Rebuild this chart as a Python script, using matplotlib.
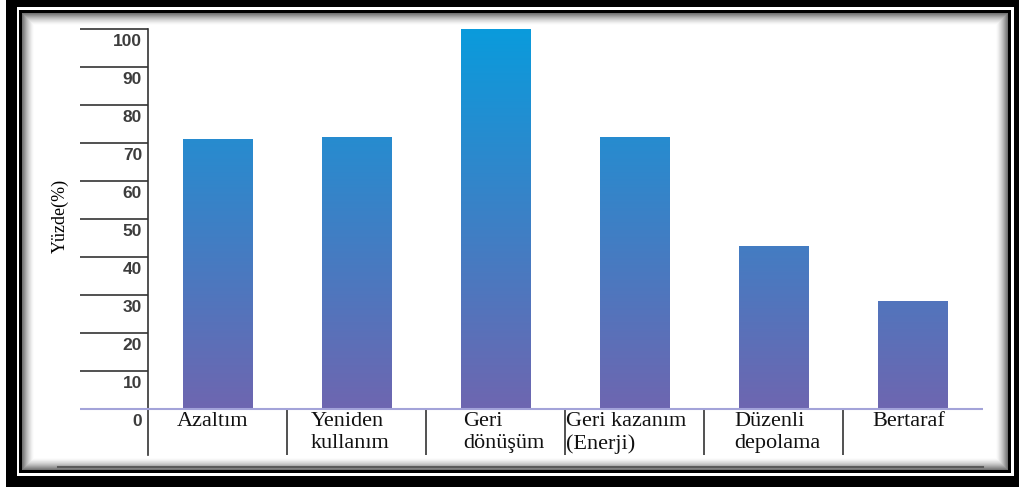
import matplotlib as mpl
mpl.use('agg')
import numpy as np
from matplotlib import pyplot as plt
from matplotlib.colors import LinearSegmentedColormap
from matplotlib.transforms import ScaledTranslation

categories = ['Azaltım', 'Yeniden\nkullanım', 'Geri\ndönüşüm', 'Geri kazanım\n(Enerji)', 'Düzenli\ndepolama', 'Bertaraf']
values = [71, 71.5, 100, 71.5, 43, 28.5]
ticks = list(range(0, 101, 10))
# left edge of each category label, relative to the category centre
label_shift = [-0.29, -0.33, -0.23, -0.49, -0.28, -0.29]

W, H = 1019, 491
fig = plt.figure(figsize=(W / 100, H / 100), dpi=100)

# double black frame with a soft inner shadow
bg = np.ones((H, W))
bg[0:487, 6:W] = 0
bg[7:476, 17:1014] = 1
bg[10:473, 19:1011] = 0
rows = np.arange(13, 470)[:, None]
cols = np.arange(22, 1008)[None, :]
d = np.minimum(np.minimum(rows - 13, 469 - rows), np.minimum(cols - 22, 1007 - cols))
bg[13:470, 22:1008] = 1 - 0.55 * np.clip(1 - d / 12, 0, 1) ** 1.5
bax = fig.add_axes([0, 0, 1, 1])
bax.imshow(bg, cmap='gray', vmin=0, vmax=1, interpolation='bilinear', aspect='auto')
bax.plot([58, 983], [466, 466], color='#5a5a5a', lw=1.5)
bax.set_xlim(-0.5, W - 0.5)
bax.set_ylim(H - 0.5, -0.5)
bax.axis('off')

ax = fig.add_axes([148 / W, (H - 409) / H, (982 - 148) / W, 380 / H])
ax.patch.set_alpha(0)
for s in ax.spines.values():
    s.set_visible(False)

x = np.arange(len(values))
bars = ax.bar(x, values, width=0.5, color='none', edgecolor='none')

# vertical gradient fixed to the value scale
cmap = LinearSegmentedColormap.from_list('bars', ['#6E66B0', '#0A9BDC'])
grad = np.linspace(0, 1, 256)[:, None]
for bar in bars:
    x0, w = bar.get_x(), bar.get_width()
    im = ax.imshow(grad, extent=[x0, x0 + w, 0, 100], origin='lower', aspect='auto',
                   cmap=cmap, vmin=0, vmax=1, interpolation='bilinear')
    im.set_clip_path(bar)

ax.set_xlim(-0.5, len(values) - 0.5)
ax.set_ylim(0, 100)

xtr = ax.get_xaxis_transform()
ytr = ax.get_yaxis_transform()
tick_len = 68 / 834
below = 46 / 380

ax.plot([0, 0], [1, -below], transform=ax.transAxes, color='#333333', lw=1.2, clip_on=False)
ax.vlines(x[:-1] + 0.5, -below, 0, transform=xtr, colors='#333333', lw=1.2, clip_on=False)
ax.hlines(ticks[1:], -tick_len, 0, transform=ytr, colors='#333333', lw=1.2, clip_on=False)
ax.hlines(0, -tick_len, 1.0012, transform=ytr, colors='#a3a3d9', lw=1.5, clip_on=False, zorder=3)

ax.set_xticks([])
ax.set_yticks(ticks)
ax.set_yticklabels([str(t) for t in ticks], fontfamily='Liberation Sans', fontweight='bold',
                   fontsize=12.5, color='#3d3d3d')
ax.tick_params(axis='y', length=0, pad=4.3)
offset = ScaledTranslation(0, -10.5 / 100, fig.dpi_scale_trans)
for lab in ax.get_yticklabels():
    lab.set_transform(lab.get_transform() + offset)

for xi, name, sh in zip(x, categories, label_shift):
    ax.text(xi + sh, -0.008, name, transform=xtr, ha='left', va='top',
            fontfamily='Liberation Serif', fontsize=16, linespacing=1.2, color='#111111')

fig.text(60 / W, 1 - 216 / H, 'Yüzde(%)', rotation=90, ha='center', va='center',
         fontfamily='Liberation Serif', fontsize=13)

fig.savefig('out.png', dpi=100)
